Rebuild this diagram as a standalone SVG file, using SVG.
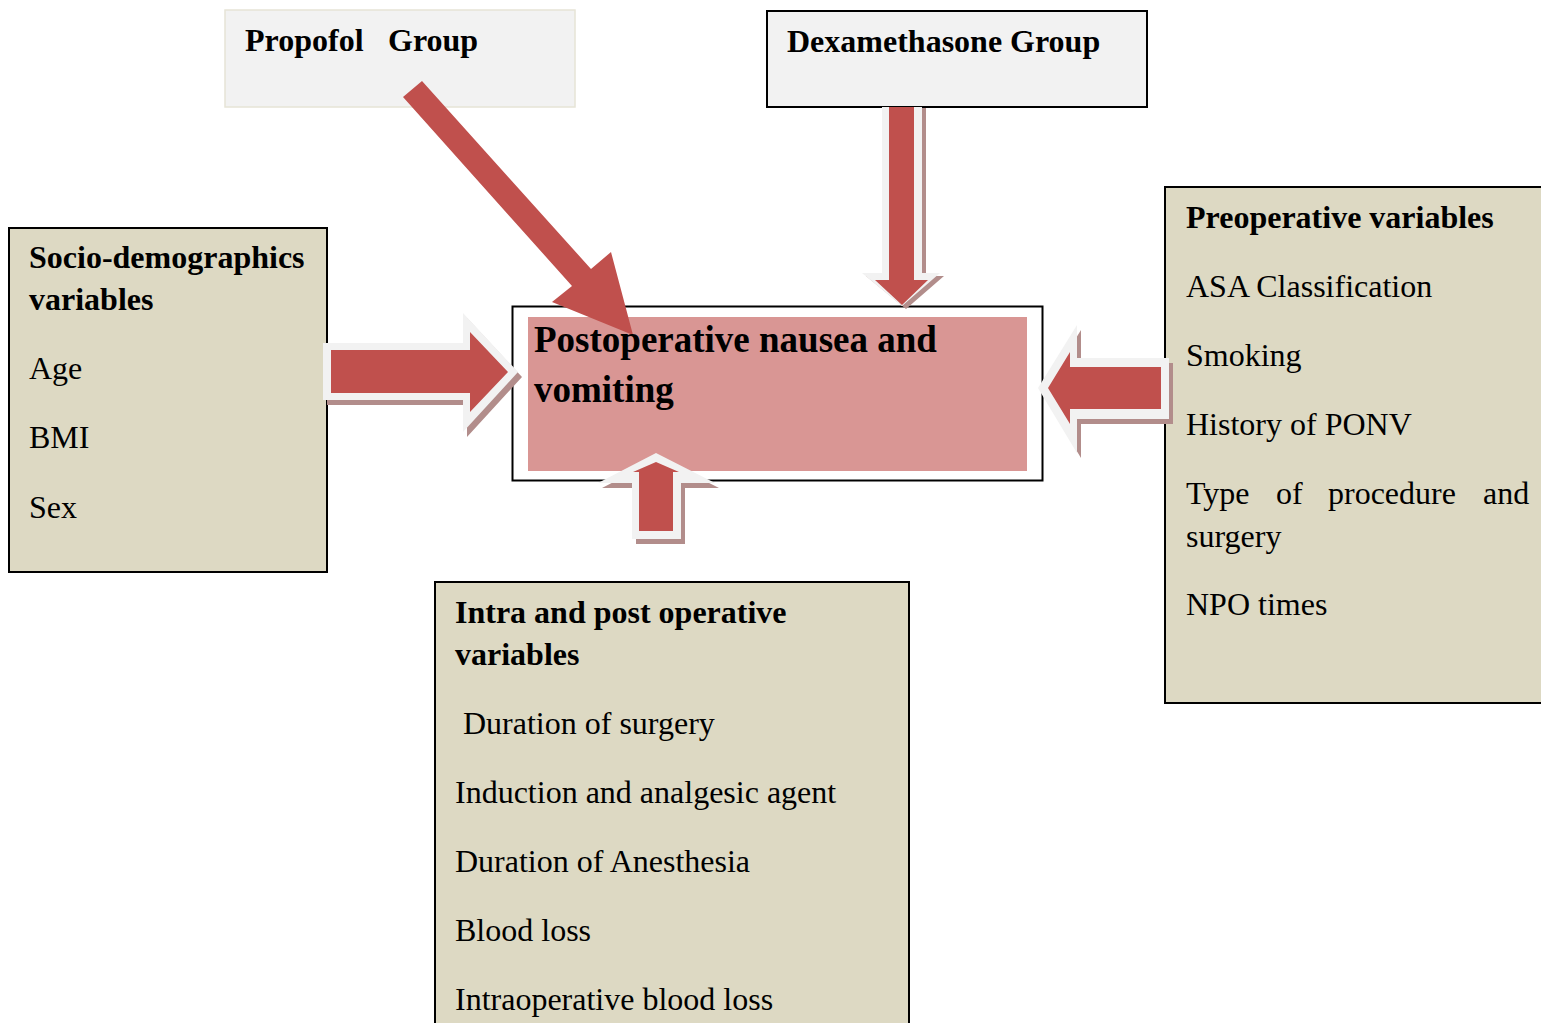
<svg xmlns="http://www.w3.org/2000/svg" width="1541" height="1023" viewBox="0 0 1541 1023">
<style>
text{font-family:"Liberation Serif","Times New Roman",serif;font-size:32px;fill:#000}
.b{font-weight:bold}
.t{font-weight:bold;font-size:37px}
.box{fill:#DDD9C3;stroke:#000;stroke-width:2}
.grp{fill:#F2F2F2}
.red{fill:#C0504D}
.wht{fill:#F2F2F2}
.shd{fill:#B28D8B}
</style>
<rect width="1541" height="1023" fill="#fff"/>
<g id="propofol">
<rect class="grp" x="225" y="10" width="350" height="97" stroke="#E6E4D6" stroke-width="1.5"/>
<text class="b" x="245" y="51">Propofol<tspan x="388">Group</tspan></text>
</g>
<g id="dexamethasone">
<rect class="grp" x="767" y="11" width="380" height="96" stroke="#000" stroke-width="2"/>
<text class="b" x="787" y="52">Dexamethasone Group</text>
</g>
<g id="socio">
<rect class="box" x="9" y="228" width="318" height="344"/>
<text class="b" x="29" y="268">Socio-demographics</text>
<text class="b" x="29" y="310">variables</text>
<text x="29" y="379">Age</text>
<text x="29" y="448">BMI</text>
<text x="29" y="518">Sex</text>
</g>
<g id="preoperative">
<rect class="box" x="1165" y="187" width="380" height="516"/>
<text class="b" x="1186" y="228">Preoperative variables</text>
<text x="1186" y="297">ASA Classification</text>
<text x="1186" y="366">Smoking</text>
<text x="1186" y="435">History of PONV</text>
<text y="504"><tspan x="1186">Type</tspan><tspan x="1276">of</tspan><tspan x="1328">procedure</tspan><tspan x="1483">and</tspan></text>
<text x="1186" y="547">surgery</text>
<text x="1186" y="615">NPO times</text>
</g>
<g id="intra">
<rect class="box" x="435" y="582" width="474" height="445"/>
<text class="b" x="455" y="623">Intra and post operative</text>
<text class="b" x="455" y="665">variables</text>
<text x="463" y="734">Duration of surgery</text>
<text x="455" y="803">Induction and analgesic agent</text>
<text x="455" y="872">Duration of Anesthesia</text>
<text x="455" y="941">Blood loss</text>
<text x="455" y="1010">Intraoperative blood loss</text>
</g>
<g id="ponv">
<rect x="512.5" y="306.5" width="530" height="174" fill="#fff" stroke="#000" stroke-width="2"/>
<rect x="528" y="317" width="499" height="154" fill="#D99694"/>
</g>
<g id="connectors">
<g id="arrow-socio">
<polygon class="shd" points="327,348 467,348 467,318 522,377 467,437 467,405 327,405"/>
<polygon class="wht" points="323,343 463,343 463,313 518,372 463,432 463,400 323,400"/>
<polygon class="red" points="331,350 470,350 470,332 508,372 470,412 470,393 331,393"/>
</g>
<g id="arrow-preop">
<polygon class="shd" points="1173,363 1081,363 1081,330 1042,393 1081,458 1081,424 1173,424"/>
<polygon class="wht" points="1169,358 1077,358 1077,325 1038,388 1077,453 1077,419 1169,419"/>
<polygon class="red" points="1161,367 1070,367 1070,352 1048,388 1070,424 1070,409 1161,409"/>
</g>
<g id="arrow-intra">
<polygon class="shd" points="636,544 636,488 602,488 660,458 719,488 685,488 685,544"/>
<polygon class="wht" points="632,539 632,483 598,483 656,453 715,483 681,483 681,539"/>
<polygon class="red" points="639,531 639,472 633,472 656,462 679,472 673,472 673,531"/>
</g>
<g id="arrow-dexa">
<polygon class="shd" points="886,108 926,108 926,276 944,276 906,309 866,276 886,276"/>
<polygon class="wht" points="882,107 922,107 922,273 940,273 902,306 862,273 882,273"/>
<polygon class="red" points="889,107 914,107 914,280 928,280 902,305 875,280 889,280"/>
</g>
<g id="arrow-propofol">
<polygon class="red" points="403,97 422,81 591,269 611,252 633,335 552,302 572,286"/>
</g>
</g>
<g id="ponv-label">
<text class="t" x="534" y="352">Postoperative nausea and</text>
<text class="t" x="534" y="402">vomiting</text>
</g>
</svg>
